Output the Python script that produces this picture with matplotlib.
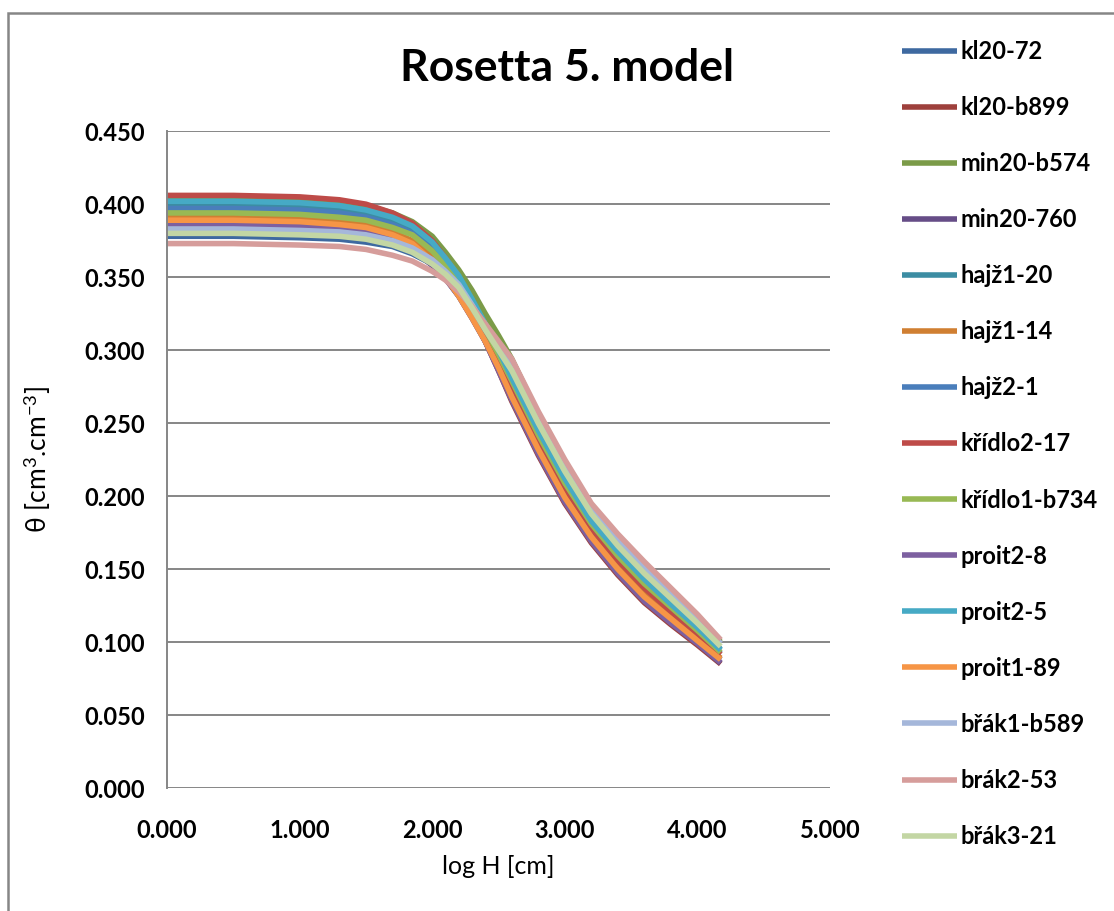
import matplotlib
matplotlib.use('Agg')
import matplotlib.pyplot as plt
from matplotlib.patches import Rectangle

plt.rcParams['font.family'] = ['Lato', 'DejaVu Sans']
plt.rcParams['mathtext.fontset'] = 'custom'
plt.rcParams['mathtext.rm'] = 'Lato'
plt.rcParams['mathtext.it'] = 'Lato:italic'

# log H [cm] values where the curves are read
log_h = [0.0, 0.5, 1.0, 1.3, 1.5, 1.7, 1.85, 2.0, 2.1, 2.2, 2.3, 2.4, 2.5, 2.6,
         2.8, 3.0, 3.2, 3.4, 3.6, 3.8, 4.0, 4.176]

kl20_72 = [0.378, 0.378, 0.377, 0.376, 0.374, 0.371, 0.366, 0.359, 0.350, 0.339, 0.325, 0.308, 0.290, 0.270, 0.233, 0.200, 0.173, 0.151, 0.132, 0.117, 0.102, 0.088]
kl20_b899 = [0.405, 0.405, 0.404, 0.401, 0.397, 0.390, 0.382, 0.368, 0.355, 0.340, 0.324, 0.306, 0.286, 0.265, 0.228, 0.195, 0.168, 0.146, 0.127, 0.112, 0.098, 0.085]
min20_b574 = [0.404, 0.404, 0.403, 0.401, 0.399, 0.394, 0.388, 0.378, 0.367, 0.355, 0.341, 0.325, 0.310, 0.294, 0.256, 0.222, 0.192, 0.172, 0.153, 0.135, 0.117, 0.100]
min20_760 = [0.384, 0.384, 0.383, 0.381, 0.379, 0.374, 0.369, 0.358, 0.349, 0.337, 0.322, 0.306, 0.287, 0.267, 0.230, 0.197, 0.170, 0.148, 0.129, 0.114, 0.0995, 0.0855]
hajz1_20 = [0.400, 0.400, 0.399, 0.397, 0.394, 0.389, 0.383, 0.372, 0.361, 0.349, 0.333, 0.316, 0.300, 0.283, 0.246, 0.213, 0.185, 0.163, 0.144, 0.127, 0.111, 0.095]
hajz1_14 = [0.391, 0.391, 0.390, 0.388, 0.386, 0.381, 0.375, 0.364, 0.353, 0.341, 0.326, 0.309, 0.291, 0.272, 0.235, 0.202, 0.174, 0.152, 0.133, 0.118, 0.103, 0.089]
hajz2_1 = [0.397, 0.397, 0.396, 0.394, 0.391, 0.386, 0.380, 0.369, 0.358, 0.346, 0.330, 0.313, 0.295, 0.277, 0.241, 0.208, 0.179, 0.158, 0.139, 0.123, 0.107, 0.092]
kridlo2_17 = [0.406, 0.406, 0.405, 0.403, 0.400, 0.394, 0.387, 0.375, 0.363, 0.350, 0.332, 0.314, 0.295, 0.276, 0.239, 0.206, 0.178, 0.156, 0.137, 0.121, 0.106, 0.0915]
kridlo1_b734 = [0.394, 0.394, 0.393, 0.391, 0.389, 0.384, 0.379, 0.368, 0.358, 0.346, 0.331, 0.314, 0.297, 0.279, 0.242, 0.209, 0.181, 0.159, 0.140, 0.124, 0.108, 0.093]
proit2_8 = [0.386, 0.386, 0.385, 0.383, 0.381, 0.376, 0.371, 0.359, 0.349, 0.337, 0.322, 0.306, 0.286, 0.266, 0.229, 0.196, 0.169, 0.147, 0.128, 0.113, 0.099, 0.086]
proit2_5 = [0.402, 0.402, 0.401, 0.399, 0.396, 0.391, 0.385, 0.374, 0.363, 0.351, 0.335, 0.318, 0.300, 0.281, 0.245, 0.212, 0.183, 0.162, 0.143, 0.126, 0.110, 0.0945]
proit1_89 = [0.389, 0.389, 0.388, 0.386, 0.384, 0.379, 0.373, 0.361, 0.350, 0.337, 0.322, 0.306, 0.288, 0.268, 0.232, 0.199, 0.172, 0.150, 0.131, 0.116, 0.101, 0.088]
brak1_b589 = [0.383, 0.383, 0.382, 0.381, 0.379, 0.375, 0.370, 0.362, 0.354, 0.345, 0.331, 0.316, 0.303, 0.290, 0.254, 0.221, 0.191, 0.170, 0.151, 0.133, 0.116, 0.099]
brak2_53 = [0.373, 0.373, 0.372, 0.371, 0.369, 0.365, 0.361, 0.354, 0.348, 0.340, 0.330, 0.318, 0.306, 0.294, 0.258, 0.225, 0.195, 0.174, 0.155, 0.137, 0.119, 0.1015]
brak3_21 = [0.380, 0.380, 0.379, 0.378, 0.376, 0.372, 0.367, 0.359, 0.352, 0.343, 0.329, 0.314, 0.300, 0.286, 0.250, 0.217, 0.188, 0.166, 0.147, 0.130, 0.113, 0.097]

names = ['kl20-72', 'kl20-b899', 'min20-b574', 'min20-760', 'hajž1-20', 'hajž1-14', 'hajž2-1',
         'křídlo2-17', 'křídlo1-b734', 'proit2-8', 'proit2-5', 'proit1-89', 'břák1-b589',
         'brák2-53', 'břák3-21']
series = [kl20_72, kl20_b899, min20_b574, min20_760, hajz1_20, hajz1_14, hajz2_1, kridlo2_17,
          kridlo1_b734, proit2_8, proit2_5, proit1_89, brak1_b589, brak2_53, brak3_21]
colors = ['#3E69A0', '#9E403C', '#7B9B48', '#664D87', '#3C8DA3', '#D07F32', '#4A7EBB',
          '#BE4B48', '#98B954', '#7D60A0', '#46AAC5', '#F69546', '#A5B7DA', '#D69D9B', '#C3D6A4']

xticks = [0, 1, 2, 3, 4, 5]
yticks = [0, 0.05, 0.1, 0.15, 0.2, 0.25, 0.3, 0.35, 0.4, 0.45]

fig = plt.figure(figsize=(11.14, 9.11), dpi=100)
ax = fig.add_axes([0.150, 0.135, 0.595, 0.721])

for name, vals, col in zip(names, series, colors):
    ax.plot(log_h, vals, color=col, lw=4, label=name, solid_joinstyle='round', solid_capstyle='butt')

ax.set_xlim(0, 5)
ax.set_ylim(0, 0.45)
ax.set_xticks(xticks)
ax.set_yticks(yticks)
ax.set_xticklabels(['%.3f' % v for v in xticks])
ax.set_yticklabels(['%.3f' % v for v in yticks])
ax.tick_params(length=0, labelsize=17)
ax.tick_params(axis='y', pad=16)
ax.tick_params(axis='x', pad=22)
for lab in ax.get_xticklabels() + ax.get_yticklabels():
    lab.set_fontweight('bold')
ax.grid(axis='y', color='#868686', lw=1.4)
ax.set_axisbelow(True)
for s in ['top', 'right', 'bottom']:
    ax.spines[s].set_visible(False)
ax.spines['left'].set_color('#868686')
ax.spines['left'].set_linewidth(1.4)

ax.set_xlabel('log H [cm]', fontsize=18)
ax.set_ylabel(r'θ [cm$^{3}$.cm$^{-3}$]', fontsize=19)
ax.xaxis.set_label_coords(0.5, -0.102)
ax.yaxis.set_label_coords(-0.172, 0.5)

fig.text(0.509, 0.925, 'Rosetta 5. model', fontsize=32, fontweight='bold', ha='center', va='center')

leg = ax.legend(loc='upper left', bbox_to_anchor=(0.810, 0.956), bbox_transform=fig.transFigure,
                frameon=False, fontsize=17, handlelength=2.3, handletextpad=0.15,
                labelspacing=1.40, borderpad=0, borderaxespad=0)
for t in leg.get_texts():
    t.set_fontweight('bold')
for h in leg.get_lines():
    h.set_linewidth(4)

fig.patches.append(Rectangle((8 / 1114, -0.1), 1.2, 1.1 - 13 / 911, transform=fig.transFigure,
                             fill=False, edgecolor='#868686', lw=1.8))

fig.savefig('out.png', dpi=100)
